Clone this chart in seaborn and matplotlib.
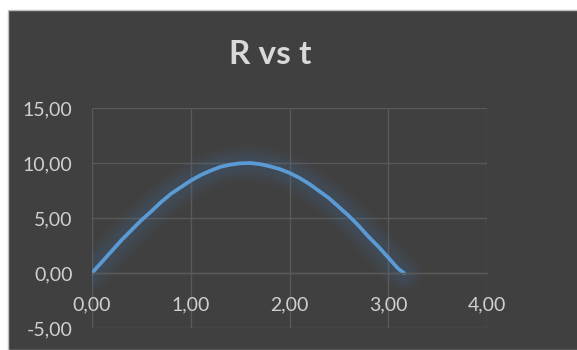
import numpy as np
import pandas as pd
import matplotlib
matplotlib.use("Agg")
import matplotlib.pyplot as plt
import seaborn as sns
from matplotlib.ticker import FuncFormatter
from matplotlib.patches import Rectangle

# === Data ===
t_values = [0.0, 0.1, 0.2, 0.3, 0.4, 0.5, 0.6, 0.7, 0.8, 0.9, 1.0, 1.1, 1.2, 1.3, 1.4, 1.5,
            1.6, 1.7, 1.8, 1.9, 2.0, 2.1, 2.2, 2.3, 2.4, 2.5, 2.6, 2.7, 2.8, 2.9, 3.0, 3.1, 3.16]
r_values = [0.0, 1.0, 2.0, 3.0, 3.9, 4.8, 5.6, 6.45, 7.2, 7.8, 8.4, 8.9, 9.3, 9.65, 9.85, 9.97,
            10.0, 9.9, 9.7, 9.45, 9.1, 8.65, 8.1, 7.45, 6.8, 6.0, 5.2, 4.3, 3.3, 2.4, 1.4, 0.4, 0.0]
x_ticks = [0, 1, 2, 3, 4]
y_ticks = [-5, 0, 5, 10, 15]
title = "R vs t"

df = pd.DataFrame({"t": t_values, "R": r_values})

sns.set_theme(style="dark")
plt.rcParams["font.family"] = ["Lato", "DejaVu Sans"]

bg = "#404040"
grid = "#595959"
text_col = "#d0d0d0"
line_col = "#5b9bd5"

fig = plt.figure(figsize=(5.77, 3.5), dpi=100, facecolor="white")
fig.patches.append(Rectangle((8 / 577, 0), 1, 1 - 10 / 350, transform=fig.transFigure,
                             facecolor=bg, edgecolor="#bfbfbf", linewidth=1, zorder=-5))
ax = fig.add_axes([92 / 577, 22 / 350, 395 / 577, 220 / 350])
ax.set_facecolor(bg)

# soft glow around the line (darker, more diffuse halo)
for w, a in [(26, 0.035), (22, 0.04), (18, 0.045), (14, 0.05), (10, 0.05)]:
    sns.lineplot(data=df, x="t", y="R", ax=ax, color="#4a7fb5", linewidth=w,
                 alpha=a, sort=False, solid_capstyle="round")
sns.lineplot(data=df, x="t", y="R", ax=ax, color=line_col, linewidth=2.7,
             sort=False, solid_capstyle="round")

ax.set_xlim(0, 4)
ax.set_ylim(-5, 15)
ax.set_xticks(x_ticks)
ax.set_yticks(y_ticks)
fmt = FuncFormatter(lambda v, p: f"{v:.2f}".replace(".", ","))
ax.xaxis.set_major_formatter(fmt)
ax.yaxis.set_major_formatter(fmt)

ax.grid(True, color=grid, linewidth=1)
for s in ["top", "right", "left"]:
    ax.spines[s].set_visible(False)
# x labels sit next to the y = 0 axis, as in Excel
ax.spines["bottom"].set_position(("data", 0))
ax.spines["bottom"].set_color(grid)
ax.spines["bottom"].set_linewidth(1)

ax.tick_params(axis="x", length=0, pad=17, labelsize=14, colors=text_col)
ax.tick_params(axis="y", length=0, pad=14, labelsize=14, colors=text_col)
ax.set_xlabel("")
ax.set_ylabel("")

fig.text(270 / 577, 1 - 55 / 350, title, ha="center", va="center",
         fontsize=24, fontweight="bold", color="#d9d9d9")

plt.savefig("out.png", dpi=100, facecolor=fig.get_facecolor())
